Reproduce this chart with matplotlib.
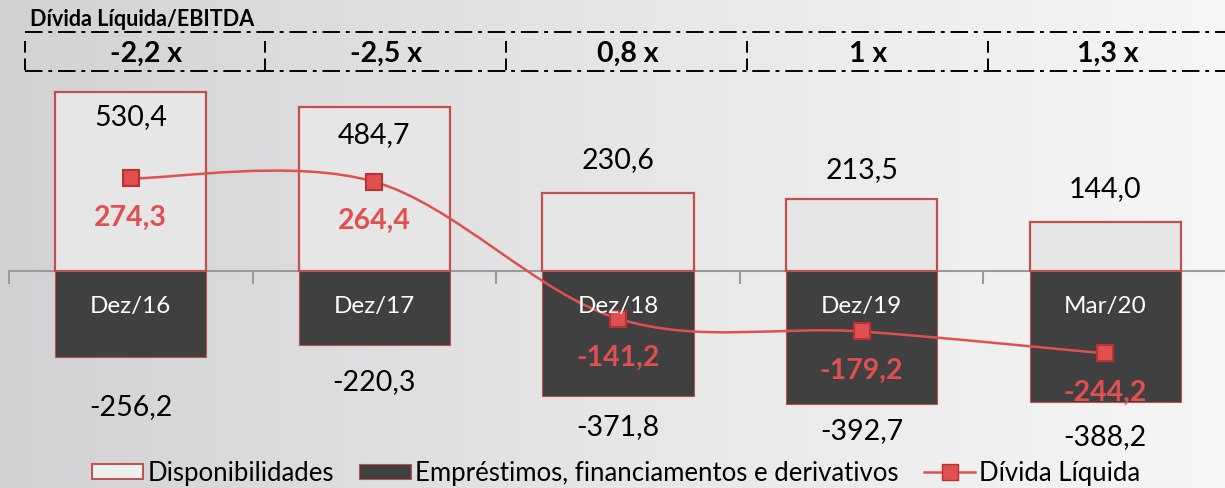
import numpy as np
import matplotlib
matplotlib.use("Agg")
import matplotlib.pyplot as plt
from matplotlib.path import Path
from matplotlib.patches import PathPatch, Patch
from matplotlib.lines import Line2D

plt.rcParams["font.family"] = ["Lato", "DejaVu Sans"]

categories = ["Dez/16", "Dez/17", "Dez/18", "Dez/19", "Mar/20"]
disponibilidades = [530.4, 484.7, 230.6, 213.5, 144.0]
emprestimos = [-256.2, -220.3, -371.8, -392.7, -388.2]
divida_liquida = [274.3, 264.4, -141.2, -179.2, -244.2]
ratios = ["-2,2 x", "-2,5 x", "0,8 x", "1 x", "1,3 x"]

RED, RED_DARK, LIGHT, DARK = "#E05050", "#C0504D", "#E6E6E6", "#404040"

# label offsets in pixels (hand placed to match the source slide)
POS_OFF = [-24, -27, 34, 30, 34]
NEG_OFF = [-49, -36, -30, -27, -34]


def br(v):
    return f"{v:.1f}".replace(".", ",")


W, H = 1225, 489
fig = plt.figure(figsize=(W / 100, H / 100), dpi=100)

# background + header, in pixel coordinates
bg = fig.add_axes([0, 0, 1, 1])
bg.set_xlim(0, W)
bg.set_ylim(H, 0)
bg.axis("off")
grad = np.linspace(0, 1, 256)[None, :]
cmap = matplotlib.colors.LinearSegmentedColormap.from_list("g", ["#d2d2d4", "#e6e6e7", "#f6f6f6"])
bg.imshow(grad, aspect="auto", cmap=cmap, extent=(0, W, H, 0), zorder=0)

bg.text(30, 20, "Dívida Líquida/EBITDA", fontsize=15.5, fontweight="bold", va="center", ha="left")
dash = (0, (9, 3, 2, 3))
bg.plot([25, W], [33, 33], color="black", lw=1.4, ls=dash)
bg.plot([25, W], [72, 72], color="black", lw=1.4, ls=dash)
cells = [25, 265, 506, 747, 988, W]
for i, r in enumerate(ratios):
    bg.plot([cells[i], cells[i]], [42, 72], color="black", lw=1.4, ls=(0, (6, 3)))
    bg.text((cells[i] + cells[i + 1]) / 2 + 1, 54, r, fontsize=20.5, fontweight="bold",
            ha="center", va="center")

ax = fig.add_axes([9 / W, 75.25 / H, 1218 / W, 344.25 / H])
ax.patch.set_alpha(0)
ax.set_xlim(-0.5, 4.5)
ax.set_ylim(-420, 600)
x = np.arange(len(categories))

ax.bar(x, disponibilidades, width=0.62, color=LIGHT, edgecolor=RED_DARK, linewidth=1.6, zorder=2)
ax.bar(x, emprestimos, width=0.62, color=DARK, edgecolor=RED_DARK, linewidth=0.8, zorder=2)

for s in ["top", "right", "left"]:
    ax.spines[s].set_visible(False)
ax.spines["bottom"].set_position(("data", 0))
ax.spines["bottom"].set_color("#9a9a9a")
ax.spines["bottom"].set_linewidth(1.5)
ax.spines["bottom"].set_zorder(1)
ax.set_yticks([])
ax.set_xticks(np.arange(-0.5, 5, 1))
ax.set_xticklabels([])
ax.tick_params(axis="x", direction="out", length=9, width=1.5, color="#9a9a9a")

# smoothed line (Catmull-Rom -> cubic Bezier, like Excel's smoothed line)
pts = np.column_stack([x, divida_liquida]).astype(float)
ext = np.vstack([pts[0], pts, pts[-1]])
verts, codes = [tuple(pts[0])], [Path.MOVETO]
for i in range(len(pts) - 1):
    p0, p1, p2, p3 = ext[i], ext[i + 1], ext[i + 2], ext[i + 3]
    c1 = p1 + (p2 - p0) / 6
    c2 = p2 - (p3 - p1) / 6
    verts += [tuple(c1), tuple(c2), tuple(p2)]
    codes += [Path.CURVE4] * 3
ax.add_patch(PathPatch(Path(verts, codes), facecolor="none", edgecolor=RED, lw=1.8, zorder=3))
ax.plot(x, divida_liquida, ls="none", marker="s", ms=12, mfc=RED, mec="#B83232", mew=1.5, zorder=4)

for i in range(len(categories)):
    ax.annotate(br(disponibilidades[i]), (x[i], disponibilidades[i]), xytext=(0, POS_OFF[i]),
                textcoords="offset pixels", ha="center", va="center", fontsize=20.5, color="black")
    ax.annotate(br(emprestimos[i]), (x[i], emprestimos[i]), xytext=(0, NEG_OFF[i]),
                textcoords="offset pixels", ha="center", va="center", fontsize=20.5,
                color="black", annotation_clip=False)
    ax.annotate(br(divida_liquida[i]), (x[i], divida_liquida[i]), xytext=(0, -38),
                textcoords="offset pixels", ha="center", va="center", fontsize=20.5,
                fontweight="bold", color=RED, zorder=5)
    ax.annotate(categories[i], (x[i], 0), xytext=(0, -35), textcoords="offset pixels",
                ha="center", va="center", fontsize=17.5, color="white", zorder=5)

handles = [Patch(facecolor="#eeeeee", edgecolor=RED_DARK, lw=1.4),
           Patch(facecolor=DARK, edgecolor=RED_DARK, lw=0.8),
           Line2D([], [], color=RED, lw=1.8, marker="s", ms=12, mfc=RED, mec="#B83232")]
fig.legend(handles, ["Disponibilidades", "Empréstimos, financiamentos e derivativos", "Dívida Líquida"],
           loc="center", bbox_to_anchor=(0.503, 0.031), ncol=3, frameon=False, fontsize=18.5,
           handlelength=2.0, handleheight=0.55, handletextpad=0.15, columnspacing=1.0,
           borderpad=0, borderaxespad=0)

fig.savefig("out.png", dpi=100)
